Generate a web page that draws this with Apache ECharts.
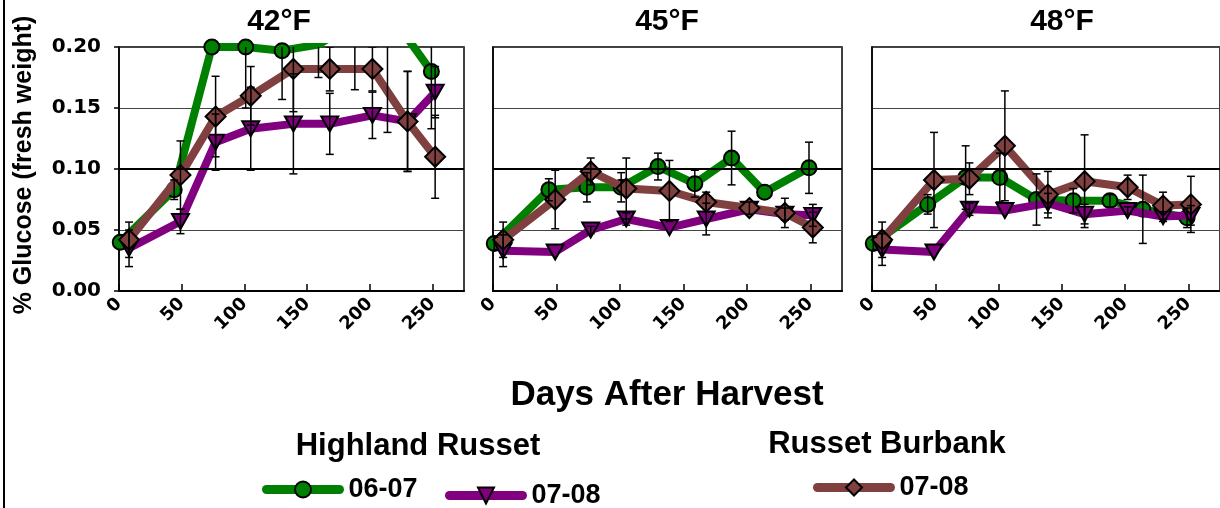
<!DOCTYPE html>
<html><head><meta charset="utf-8">
<script src="https://cdn.jsdelivr.net/npm/echarts@6/dist/echarts.min.js"></script>
<style>html,body{margin:0;padding:0;background:#fff}#c{width:1220px;height:508px}</style>
</head><body><div id="c"></div>
<script>
// ---------- data ----------
const panelTitles = ['42°F', '45°F', '48°F'];
const xTickStep = 50;
const yTickStep = 0.05;
const yMax = 0.20;
const xMax = 275;

const daysHR0607 = [1, 44, 74, 101, 130, 159, 188, 214, 249];
const days0708   = [8, 49, 77, 105, 139, 168, 202, 230, 252];

// Highland Russet 06-07 (green)
const hr0607_42 = [0.040, 0.083, 0.200, 0.200, 0.197, 0.202, 0.220, 0.230, 0.180];
const hr0607_45 = [0.039, 0.083, 0.085, 0.085, 0.102, 0.088, 0.109, 0.081, 0.101];
const hr0607_48 = [0.039, 0.071, 0.093, 0.093, 0.075, 0.074, 0.074, 0.067, 0.060];
const hr0607_42_err = [0, 0.008, 0, 0.050, 0.040, 0.027, 0.055, 0.100, 0.047];
const hr0607_45_err = [0.005, 0.009, 0.012, 0.012, 0.011, 0.011, 0.022, 0, 0.021];
const hr0607_48_err = [0.005, 0.008, 0.026, 0.020, 0.021, 0.010, 0.005, 0.028, 0.008];

// Highland Russet 07-08 (purple)
const hr0708_42 = [0.035, 0.057, 0.122, 0.133, 0.137, 0.137, 0.144, 0.139, 0.163];
const hr0708_45 = [0.033, 0.032, 0.050, 0.059, 0.052, 0.059, 0.067, 0.063, 0.062];
const hr0708_48 = [0.034, 0.032, 0.067, 0.066, 0.072, 0.063, 0.066, 0.061, 0.062];
const hr0708_42_err = [0.015, 0.010, 0.023, 0.034, 0.041, 0.025, 0.019, 0.041, 0.021];
const hr0708_45_err = [0.013, 0, 0.003, 0.005, 0, 0.013, 0, 0.005, 0.009];
const hr0708_48_err = [0.013, 0, 0.005, 0, 0.008, 0.008, 0.003, 0.004, 0.008];

// Russet Burbank 07-08 (brown)
const rb0708_42 = [0.042, 0.095, 0.143, 0.160, 0.182, 0.182, 0.182, 0.139, 0.110];
const rb0708_45 = [0.042, 0.075, 0.098, 0.084, 0.082, 0.073, 0.068, 0.064, 0.052];
const rb0708_48 = [0.042, 0.091, 0.092, 0.119, 0.079, 0.090, 0.085, 0.070, 0.071];
const rb0708_42_err = [0.0145, 0.028, 0.033, 0.024, 0.035, 0.018, 0.018, 0.041, 0.034];
const rb0708_45_err = [0.0145, 0.024, 0.011, 0.025, 0.025, 0.008, 0.005, 0.012, 0.0125];
const rb0708_48_err = [0.0145, 0.039, 0.013, 0.045, 0.019, 0.038, 0.010, 0.011, 0.023];

const seriesNames = ['HR 06-07', 'HR 07-08', 'RB 07-08'];
const legendHeads = ['Highland Russet', 'Russet Burbank'];
const xAxisTitle = 'Days After Harvest';
const yAxisTitle = '% Glucose (fresh weight)';

// ---------- chart ----------
const FONT = '"Liberation Sans", Arial, sans-serif';
const WIDE = '"DejaVu Sans", sans-serif';
const colors = ['#008000', '#800080', '#804040'];
const panels = [
  {g: hr0607_42, ge: hr0607_42_err, p: hr0708_42, pe: hr0708_42_err, b: rb0708_42, be: rb0708_42_err},
  {g: hr0607_45, ge: hr0607_45_err, p: hr0708_45, pe: hr0708_45_err, b: rb0708_45, be: rb0708_45_err},
  {g: hr0607_48, ge: hr0607_48_err, p: hr0708_48, pe: hr0708_48_err, b: rb0708_48, be: rb0708_48_err}
];
const gridLeft = [119, 493, 872];
const gridW = [345, 349, 349];

const grids = [], xAxes = [], yAxes = [], series = [];
panels.forEach((pd, i) => {
  grids.push({left: gridLeft[i], top: 47, width: gridW[i], height: 244, show: true,
    borderColor: '#000', borderWidth: 1.5, backgroundColor: 'transparent', containLabel: false});
  xAxes.push({type: 'value', gridIndex: i, min: 0, max: xMax, interval: xTickStep,
    axisLine: {show: true, onZero: false, lineStyle: {color: '#000', width: 2}},
    axisTick: {show: true, inside: true, length: 7, lineStyle: {color: '#000', width: 1.5}},
    splitLine: {show: false},
    axisLabel: {show: true, rotate: 45, margin: 10, showMaxLabel: false, color: '#000',
      fontFamily: WIDE, fontWeight: 'bold', fontSize: 18,
      formatter: v => (v % xTickStep === 0 ? String(v) : '')}});
  yAxes.push({type: 'value', gridIndex: i, min: 0, max: yMax, interval: yTickStep,
    axisLine: {show: true, lineStyle: {color: '#000', width: 1.5}},
    axisTick: {show: i === 0, inside: false, length: 5, lineStyle: {color: '#000', width: 1.5}},
    splitLine: {show: true, lineStyle: {color: '#444', width: 1}},
    axisLabel: {show: i === 0, margin: 18, color: '#000', fontFamily: WIDE, fontWeight: 'bold',
      fontSize: 20, formatter: v => v.toFixed(2)}});

  // thicker reference line at 0.10 (behind data)
  series.push({type: 'line', name: 'ref' + i, xAxisIndex: i, yAxisIndex: i, data: [], z: 1,
    silent: true, legendHoverLink: false,
    markLine: {silent: true, symbol: 'none', label: {show: false},
      lineStyle: {color: '#000', width: 2, type: 'solid'}, data: [{yAxis: 0.10}]}});

  const defs = [
    {name: seriesNames[0], days: daysHR0607, vals: pd.g, errs: pd.ge, symbol: 'circle', size: 15, rot: 0},
    {name: seriesNames[1], days: days0708, vals: pd.p, errs: pd.pe, symbol: 'triangle', size: [17, 15], rot: 180},
    {name: seriesNames[2], days: days0708, vals: pd.b, errs: pd.be, symbol: 'diamond', size: 20, rot: 0}
  ];
  defs.forEach((d, k) => {
    series.push({type: 'line', name: d.name, xAxisIndex: i, yAxisIndex: i, z: 2 + k,
      data: d.days.map((x, j) => [x, d.vals[j]]),
      symbol: d.symbol, symbolSize: d.size, symbolRotate: d.rot, showSymbol: true, clip: true,
      lineStyle: {color: colors[k], width: 8, join: 'round', cap: 'round'},
      itemStyle: {color: colors[k], borderColor: '#000', borderWidth: 2},
      emphasis: {disabled: true}});
  });
  defs.forEach((d, k) => {
    series.push({type: 'custom', name: 'err' + i + k, xAxisIndex: i, yAxisIndex: i, z: 6, clip: true,
      silent: true,
      data: d.days.map((x, j) => [x, d.vals[j], d.errs[j]]),
      renderItem: (params, api) => {
        const x = api.value(0), y = api.value(1), e = api.value(2);
        if (!e) return null;
        const t = api.coord([x, y + e]);
        const b = api.coord([x, y - e]);
        const cw = 4;
        const st = {stroke: '#000', lineWidth: 1.5};
        return {type: 'group', children: [
          {type: 'line', shape: {x1: t[0], y1: t[1], x2: b[0], y2: b[1]}, style: st},
          {type: 'line', shape: {x1: t[0] - cw, y1: t[1], x2: t[0] + cw, y2: t[1]}, style: st},
          {type: 'line', shape: {x1: b[0] - cw, y1: b[1], x2: b[0] + cw, y2: b[1]}, style: st}
        ]};
      }});
  });
});

const legendBase = (name, left, top) => ({
  data: [name], left: left, top: top, orient: 'horizontal', itemWidth: 73, itemHeight: 20,
  padding: 0, selectedMode: false,
  formatter: n => n.split(' ')[1],
  lineStyle: {width: 9},
  textStyle: {fontFamily: FONT, fontWeight: 'bold', fontSize: 27, color: '#000', padding: [0, 0, 0, 4]}
});

const option = {
  animation: false,
  backgroundColor: '#fff',
  grid: grids, xAxis: xAxes, yAxis: yAxes, series: series,
  legend: [
    legendBase(seriesNames[0], 262, 476),
    legendBase(seriesNames[1], 445, 482),
    legendBase(seriesNames[2], 813, 474)
  ],
  graphic: [
    {type: 'rect', shape: {x: 3, y: 0, width: 2, height: 508}, style: {fill: '#000'}},
    {type: 'text', x: 279, y: 22, style: {text: panelTitles[0], font: 'bold 30px ' + FONT, fill: '#000', textAlign: 'center', textVerticalAlign: 'middle'}},
    {type: 'text', x: 667, y: 22, style: {text: panelTitles[1], font: 'bold 30px ' + FONT, fill: '#000', textAlign: 'center', textVerticalAlign: 'middle'}},
    {type: 'text', x: 1062, y: 22, style: {text: panelTitles[2], font: 'bold 30px ' + FONT, fill: '#000', textAlign: 'center', textVerticalAlign: 'middle'}},
    {type: 'text', x: 667, y: 395, style: {text: xAxisTitle, font: 'bold 35px ' + FONT, fill: '#000', textAlign: 'center', textVerticalAlign: 'middle'}},
    {type: 'text', x: 24, y: 165, rotation: Math.PI / 2, style: {text: yAxisTitle, font: 'bold 25px ' + FONT, fill: '#000', textAlign: 'center', textVerticalAlign: 'middle'}},
    {type: 'text', x: 418, y: 446, style: {text: legendHeads[0], font: 'bold 31px ' + FONT, fill: '#000', textAlign: 'center', textVerticalAlign: 'middle'}},
    {type: 'text', x: 887, y: 444, style: {text: legendHeads[1], font: 'bold 31px ' + FONT, fill: '#000', textAlign: 'center', textVerticalAlign: 'middle'}}
  ]
};
const chart = echarts.init(document.getElementById('c'), null, {renderer: 'canvas'});
chart.setOption(option);
</script>
</body></html>
